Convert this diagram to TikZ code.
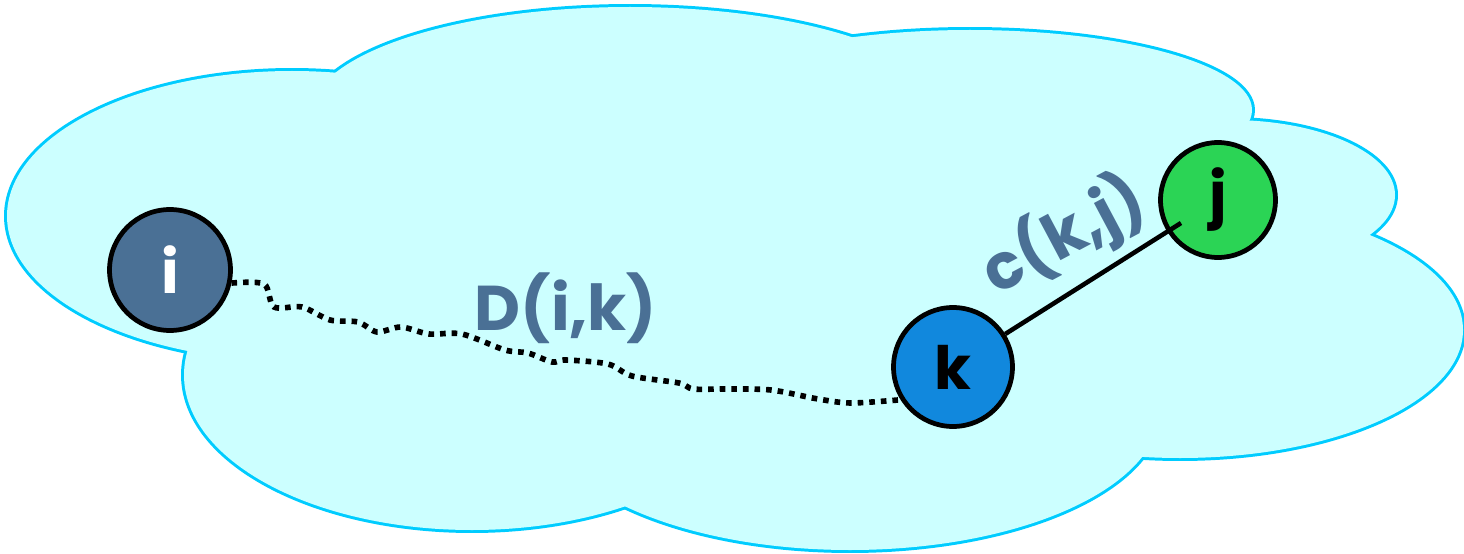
\documentclass[tikz,border=0pt]{standalone}
\usepackage{fontspec}
\setmainfont{Poppins}
\definecolor{cloudfill}{HTML}{CCFFFF}
\definecolor{cloudline}{HTML}{00CCFF}
\definecolor{steel}{HTML}{4A7095}
\definecolor{kblue}{HTML}{1188DD}
\definecolor{jgreen}{HTML}{2BD455}
\begin{document}
\begin{tikzpicture}[x=0.02cm,y=-0.02cm,
  vertex/.style={circle,draw=black,line width=2.7pt,inner sep=0pt,font=\fontsize{34}{40}\selectfont\bfseries},
  lbl/.style={text=steel,font=\fontsize{36}{42}\selectfont\bfseries},
  wig/.style={line width=3.2pt,dash pattern=on 3.2pt off 3.4pt},
  edge/.style={line width=2.6pt}
]
\useasboundingbox (0,0) rectangle (1464,554);
% cloud: outlines doubled, then fills cover inner halves
\foreach \cx/\cy/\rx/\ry in {292/216/285/145, 630/115/320/108, 970/110/282/80, 1230/195/165/75, 1180/330/283/128, 850/410/310/140, 472/375/288/155}{
  \draw[cloudline,line width=3.4pt] (\cx,\cy) ellipse [x radius=\rx, y radius=\ry];
}
\foreach \cx/\cy/\rx/\ry in {292/216/285/145, 630/115/320/108, 970/110/282/80, 1230/195/165/75, 1180/330/283/128, 850/410/310/140, 472/375/288/155, 740/270/520/170}{
  \fill[cloudfill] (\cx,\cy) ellipse [x radius=\rx, y radius=\ry];
}
\node[vertex,fill=steel,text=white,minimum size=2.42cm] (i) at (170,270) {i};
\node[vertex,fill=kblue,minimum size=2.38cm] (k) at (953,367) {k};
\node[vertex,fill=jgreen,minimum size=2.3cm] (j) at (1218,200) {j};
\coordinate (jin) at (1181,223);
\draw[wig] plot[smooth,tension=0.5] coordinates {(i.-12) (264,284) (274,307) (302,307) (330,320) (358,322) (377,332) (401,327) (429,334) (462,334) (505,350) (528,353) (552,362) (566,360) (608,364) (632,376) (679,383) (693,389) (724,389) (771,390) (818,399) (851,403) (k.212)};
\draw[edge] (k) -- (jin);
\node[lbl] (dik) at (566,308) {D(i,k)};
\node[lbl,rotate=28] (ckj) at (1064,236) {c(k,j)};
\end{tikzpicture}
\end{document}
